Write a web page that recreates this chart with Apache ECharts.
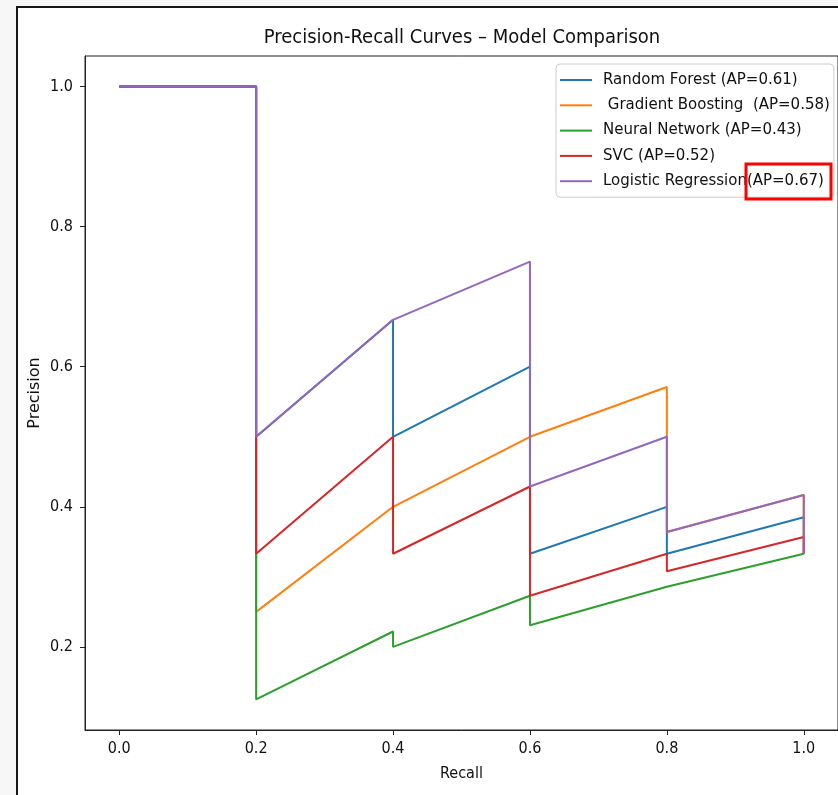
<!DOCTYPE html>
<html>
<head>
<meta charset="utf-8">
<script src="https://cdn.jsdelivr.net/npm/echarts@6/dist/echarts.min.js"></script>
<style>
  html, body { margin: 0; padding: 0; background: #f7f7f7; overflow: hidden; }
  #frame { position: absolute; left: 16px; top: 6px; width: 900px; height: 900px;
           border: 2px solid #161616; background: #ffffff; }
  #chart { position: absolute; left: 0; top: 0; width: 838px; height: 795px; }
</style>
</head>
<body>
<div id="frame"></div>
<div id="chart"></div>
<script>
// ---- data ----
const seriesNames = [
  'Random Forest (AP=0.61)',
  ' Gradient Boosting  (AP=0.58)',
  'Neural Network (AP=0.43)',
  'SVC (AP=0.52)',
  'Logistic Regression(AP=0.67)'
];
const seriesColors = ['#1f77b4', '#ff7f0e', '#2ca02c', '#d62728', '#9467bd'];

const rfRecall     = [0, 0.2, 0.2, 0.4, 0.4, 0.6, 0.6, 0.8, 0.8, 1.0, 1.0];
const rfPrecision  = [1, 1, 0.5, 0.667, 0.5, 0.6, 0.333, 0.4, 0.333, 0.385, 0.333];

const gbRecall     = [0, 0.2, 0.2, 0.4, 0.6, 0.8, 0.8, 0.8, 1.0, 1.0];
const gbPrecision  = [1, 1, 0.25, 0.4, 0.5, 0.571, 0.5, 0.364, 0.417, 0.333];

const nnRecall     = [0, 0.2, 0.2, 0.4, 0.4, 0.6, 0.6, 0.8, 1.0];
const nnPrecision  = [1, 1, 0.125, 0.222, 0.2, 0.273, 0.231, 0.286, 0.333];

const svcRecall    = [0, 0.2, 0.2, 0.4, 0.4, 0.6, 0.6, 0.8, 0.8, 1.0, 1.0];
const svcPrecision = [1, 1, 0.333, 0.5, 0.333, 0.429, 0.273, 0.333, 0.308, 0.357, 0.333];

const lrRecall     = [0, 0.2, 0.2, 0.4, 0.6, 0.6, 0.8, 0.8, 1.0, 1.0];
const lrPrecision  = [1, 1, 0.5, 0.667, 0.75, 0.429, 0.5, 0.364, 0.417, 0.333];

const xTicks = [0.0, 0.2, 0.4, 0.6, 0.8, 1.0];
const yTicks = [0.2, 0.4, 0.6, 0.8, 1.0];

const titleText = 'Precision-Recall Curves \u2013 Model Comparison';
const xName = 'Recall';
const yName = 'Precision';

// ---- build ----
const curves = [
  [rfRecall, rfPrecision],
  [gbRecall, gbPrecision],
  [nnRecall, nnPrecision],
  [svcRecall, svcPrecision],
  [lrRecall, lrPrecision]
];
const pair = (xs, ys) => xs.map((x, i) => [x, ys[i]]);

const chart = echarts.init(document.getElementById('chart'), null, { renderer: 'canvas' });

const axisColor = '#222222';
const condensed = '"DejaVu Sans Condensed", "DejaVu Sans", sans-serif';
const normal = '"DejaVu Sans", sans-serif';

chart.setOption({
  backgroundColor: 'transparent',
  animation: false,
  title: {
    text: titleText,
    left: 462,
    top: 28,
    textAlign: 'center',
    padding: 0,
    textStyle: { fontFamily: condensed, fontSize: 20, fontWeight: 'normal', color: '#111' }
  },
  legend: {
    orient: 'vertical',
    left: 556,
    top: 64,
    padding: [8, 4, 8, 4],
    itemWidth: 32,
    itemHeight: 2,
    itemGap: 9.3,
    icon: 'rect',
    backgroundColor: 'rgba(255,255,255,0.85)',
    borderColor: '#cccccc',
    borderWidth: 1,
    borderRadius: 4,
    formatter: n => '{g|}' + n,
    textStyle: {
      fontFamily: normal, fontSize: 15, color: '#111', lineHeight: 16,
      rich: { g: { width: 6 } }
    },
    data: seriesNames
  },
  grid: {
    left: 85, top: 56, right: -2, bottom: 65,
    show: true, borderColor: axisColor, borderWidth: 1, backgroundColor: 'transparent',
    containLabel: false
  },
  xAxis: {
    type: 'value',
    min: -0.05, max: 1.05,
    name: xName,
    nameLocation: 'middle',
    nameGap: 36,
    nameMoveOverlap: false,
    nameTextStyle: { fontFamily: condensed, fontSize: 16, color: '#111' },
    axisLine: { show: true, onZero: false, lineStyle: { color: axisColor, width: 1 } },
    axisTick: { show: true, length: 5, lineStyle: { color: axisColor }, customValues: xTicks },
    axisLabel: {
      show: true, margin: 11, color: '#111', fontFamily: condensed, fontSize: 16,
      customValues: xTicks, formatter: v => v.toFixed(1)
    },
    splitLine: { show: false }
  },
  yAxis: {
    type: 'value',
    min: 0.0814, max: 1.0436,
    name: yName,
    nameLocation: 'middle',
    nameGap: 42,
    nameMoveOverlap: false,
    nameRotate: 90,
    nameTextStyle: { fontFamily: normal, fontSize: 16, color: '#111' },
    axisLine: { show: true, onZero: false, lineStyle: { color: axisColor, width: 1 } },
    axisTick: { show: true, length: 5, lineStyle: { color: axisColor }, customValues: yTicks },
    axisLabel: {
      show: true, margin: 12, color: '#111', fontFamily: condensed, fontSize: 16,
      customValues: yTicks, formatter: v => v.toFixed(1)
    },
    splitLine: { show: false }
  },
  series: curves.map((c, i) => ({
    name: seriesNames[i],
    type: 'line',
    data: pair(c[0], c[1]),
    symbol: 'none',
    showSymbol: false,
    smooth: false,
    color: seriesColors[i],
    lineStyle: { color: seriesColors[i], width: 2 },
    z: 2 + i
  })),
  graphic: [{
    type: 'rect',
    z: 100,
    shape: { x: 746, y: 164, width: 85, height: 35 },
    style: { fill: 'none', stroke: '#ff0000', lineWidth: 3 }
  }]
});
</script>
</body>
</html>
